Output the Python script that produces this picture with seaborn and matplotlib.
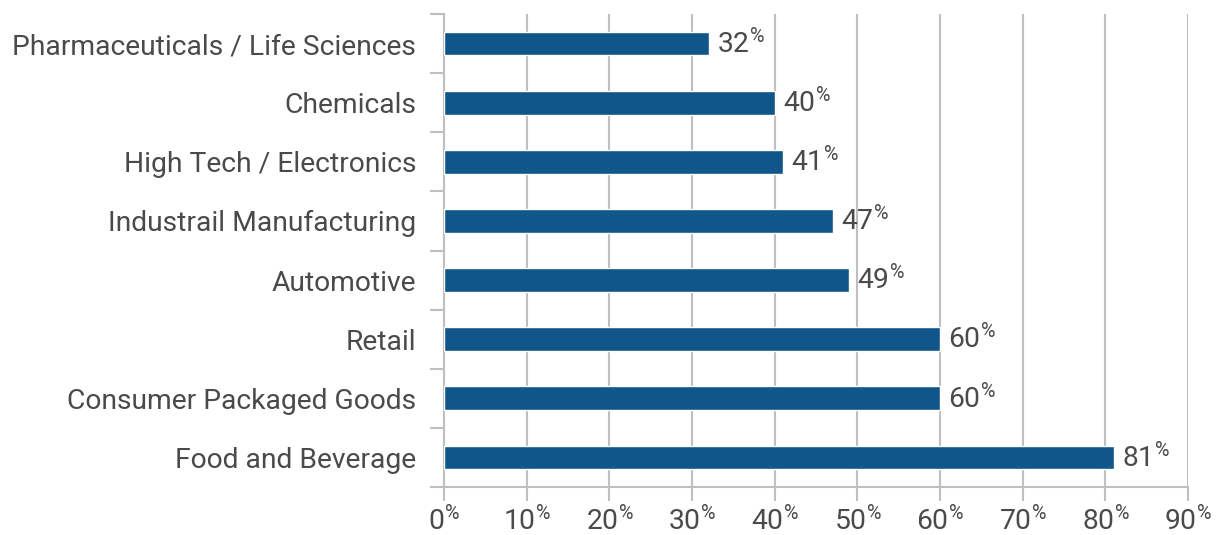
import matplotlib
matplotlib.use("Agg")
import matplotlib.pyplot as plt
import seaborn as sns
import pandas as pd
from matplotlib.ticker import FixedLocator

categories = ["Pharmaceuticals / Life Sciences", "Chemicals", "High Tech / Electronics",
              "Industrail Manufacturing", "Automotive", "Retail",
              "Consumer Packaged Goods", "Food and Beverage"]
values = [32, 40, 41, 47, 49, 60, 60, 81]
x_ticks = [0, 10, 20, 30, 40, 50, 60, 70, 80, 90]

sns.set_theme(style="white")
plt.rcParams['font.family'] = ['Roboto', 'DejaVu Sans']
plt.rcParams['mathtext.fontset'] = 'custom'
plt.rcParams['mathtext.rm'] = 'Roboto:light'
plt.rcParams['mathtext.default'] = 'regular'

BAR = "#10568A"
TXT = "#4a4a4a"
GRID = "#BFBFBF"
FS = 20.3

df = pd.DataFrame({"cat": categories, "val": values})

fig = plt.figure(figsize=(12.19, 5.35), dpi=100)
ax = fig.add_axes([444/1219, 1-487/535, (1188-444)/1219, (487-14)/535])

sns.barplot(data=df, y="cat", x="val", orient="h", color=BAR, width=0.4,
            saturation=1, ax=ax, zorder=3)

ax.set_xlim(0, 90)
ax.set_ylim(7.5, -0.5)
ax.set_xlabel("")
ax.set_ylabel("")

ax.set_xticks(x_ticks)
ax.set_xticklabels([f"{t}$^{{\\%}}$" for t in x_ticks], fontsize=FS, color=TXT)
ax.xaxis.grid(True, color=GRID, linewidth=1.5, zorder=0)
ax.tick_params(axis="x", length=10, width=1.5, color=GRID, pad=3, direction="out")
ax.tick_params(axis="x", bottom=True)

ax.set_yticks(range(len(categories)))
ax.set_yticklabels(categories, fontsize=FS, color=TXT)
ax.tick_params(axis="y", length=0, pad=20)
ax.yaxis.set_minor_locator(FixedLocator([i - 0.5 for i in range(len(categories) + 1)]))
ax.tick_params(axis="y", which="minor", length=10, width=1.5, color=GRID, direction="out", left=True)

for s in ["top", "right"]:
    ax.spines[s].set_visible(False)
for s in ["left", "bottom"]:
    ax.spines[s].set_color(GRID)
    ax.spines[s].set_linewidth(1.5)

for i, v in enumerate(values):
    ax.text(v + 1.0, i, f"{v}$^{{\\%}}$", va="center", ha="left", fontsize=FS,
            color=TXT)

fig.savefig("out.png", dpi=100, facecolor="white")
